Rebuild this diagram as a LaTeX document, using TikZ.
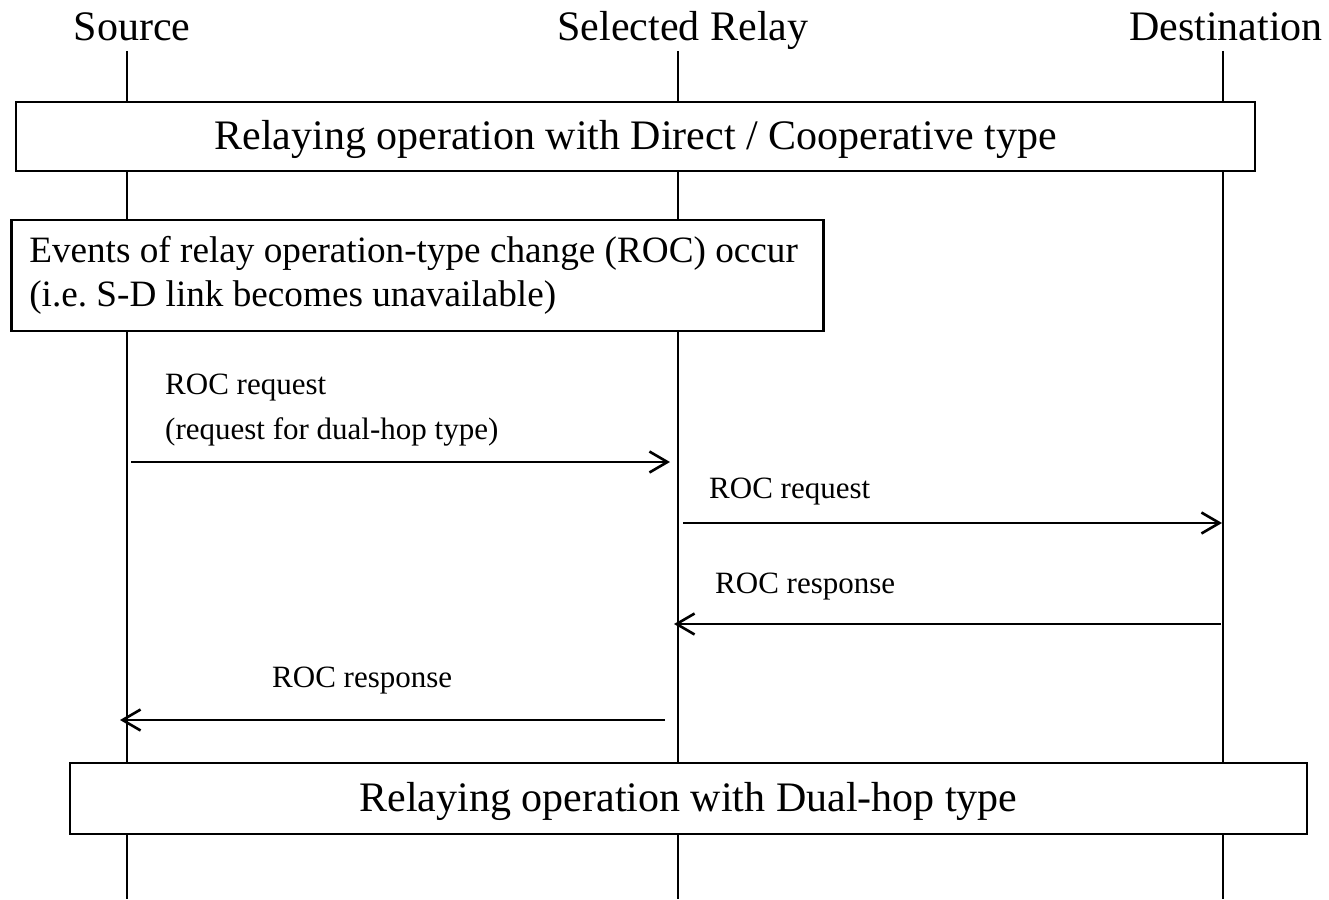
\documentclass[tikz,border=0pt]{standalone}
\usepackage{fontspec}
\setmainfont{Liberation Serif}
\usetikzlibrary{arrows.meta}
\frenchspacing
\begin{document}
\begin{tikzpicture}[x=1pt,y=-1pt,
  big/.style={font=\fontsize{42}{44}\selectfont, inner sep=0pt},
  lbl/.style={font=\fontsize{31}{45}\selectfont, inner sep=0pt, align=flush left},
  box/.style={draw, line width=2.6pt, fill=white, inner sep=0pt,
              font=\fontsize{42}{44}\selectfont},
  life/.style={line width=2.6pt},
  msg/.style={line width=2.6pt, -{Straight Barb[length=18pt,width=21pt]}}]
\useasboundingbox (0,0) rectangle (1329,899);

% titles
\node[big, anchor=base] (src) at (132,41) {Source};
\node[big, anchor=base] (rel) at (683,41) {Selected Relay};
\node[big, anchor=base] (dst) at (1226,41) {Destination};

% lifelines
\coordinate (sT) at (127,51);  \coordinate (sB) at (127,899);
\coordinate (rT) at (678,51);  \coordinate (rB) at (678,899);
\coordinate (dT) at (1223,51); \coordinate (dB) at (1223,899);
\draw[life] (sT) -- (sB);
\draw[life] (rT) -- (rB);
\draw[life] (dT) -- (dB);

% boxes
\node[box, minimum width=1239pt, minimum height=69pt, text height=34pt, text depth=9pt]
  (b1) at (635.5,136.5) {Relaying operation with Direct / Cooperative type};
\node[box, anchor=west, text width=776pt, inner xsep=18pt, minimum height=111pt, align=flush left,
      font=\fontsize{37.2}{44}\selectfont]
  (b2) at (10,275.5) {\mbox{Events of relay operation-type change (ROC) occur}\\\mbox{(i.e. S-D link becomes unavailable)}};
\node[box, minimum width=1237pt, minimum height=71pt, text height=34pt, text depth=9pt]
  (b3) at (688.5,798.5) {Relaying operation with Dual-hop type};

% message end points
\coordinate (m1s) at (131,462);  \coordinate (m1e) at (670,462);
\coordinate (m2s) at (683,523);  \coordinate (m2e) at (1222,523);
\coordinate (m3s) at (1221,624); \coordinate (m3e) at (674,624);
\coordinate (m4s) at (665,720);  \coordinate (m4e) at (120,720);

\draw[msg] (m1s) -- (m1e);
\draw[msg] (m2s) -- (m2e);
\draw[msg] (m3s) -- (m3e);
\draw[msg] (m4s) -- (m4e);

% labels
\node[lbl, anchor=north west] (l1) at (165,374) {ROC request\\(request for dual-hop type)};
\node[lbl, anchor=base west] (l2) at (709,498) {ROC request};
\node[lbl, anchor=base west] (l3) at (715,593) {ROC response};
\node[lbl, anchor=base west] (l4) at (272,687) {ROC response};
\end{tikzpicture}
\end{document}
